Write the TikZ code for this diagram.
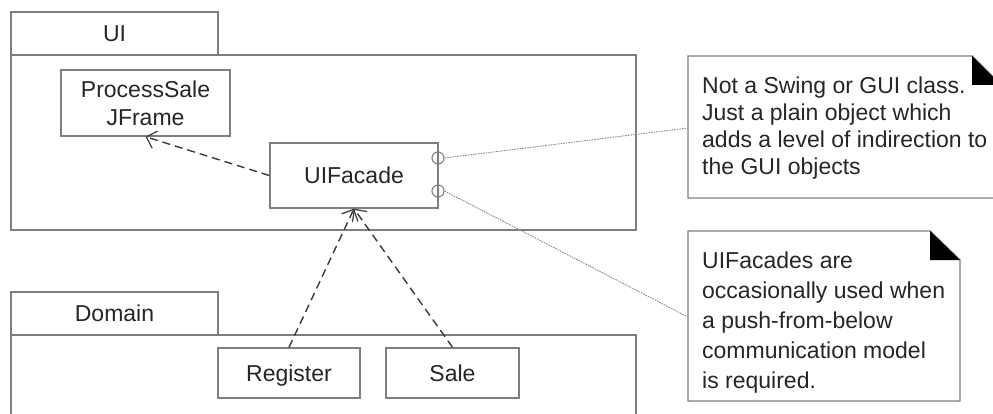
\documentclass[tikz,border=0pt]{standalone}
\usepackage{fontspec}
\setmainfont{Liberation Sans}
\usetikzlibrary{arrows.meta}
\definecolor{boxline}{HTML}{7E7E7E}
\definecolor{txt}{HTML}{262626}
\definecolor{dep}{HTML}{3A3A3A}
\definecolor{dotc}{HTML}{8C8C8C}
\begin{document}
\begin{tikzpicture}[x=1pt,y=-1pt,
  every node/.style={font=\fontsize{23}{28}\selectfont, text=txt},
  pkg/.style={draw=boxline, line width=1.4pt, rectangle, inner sep=0pt},
  cls/.style={draw=boxline, line width=1.4pt, rectangle, inner sep=0pt, align=center},
  lbl/.style={text height=16.5pt, text depth=0pt},
  lolly/.style={draw=boxline, line width=1.1pt, circle, inner sep=0pt, minimum size=12pt},
  depline/.style={draw=dep, line width=1.4pt, dash pattern=on 8pt off 5pt, -{Straight Barb[length=9pt,width=18pt,line width=1.2pt]}},
  anchorline/.style={draw=dotc, line width=0.9pt, dash pattern=on 1.6pt off 1pt},
  notebox/.style={draw=boxline, line width=1.4pt, fill=white},
  notetxt/.style={anchor=north west, inner sep=0pt, align=left}
]
\useasboundingbox (0,0) rectangle (993,414);
\clip (0,0) rectangle (993,414);
\fill[white] (0,0) rectangle (993,414);

% UI package
\node[pkg, lbl, minimum width=207pt, minimum height=43pt] (uitab) at (114.5,33.5) {UI};
\node[pkg, minimum width=625pt, minimum height=175pt] (uibody) at (323.5,142.5) {};

% Domain package
\node[pkg, lbl, minimum width=207pt, minimum height=43pt] (domtab) at (114.5,313.5) {Domain};
\draw[boxline, line width=1.4pt] (11,440) -- (11,335) -- (636,335) -- (636,440);
\coordinate (dombody) at (11,335);

% classes
\node[cls, minimum width=169pt, minimum height=66pt] (psj) at (145.5,103) {ProcessSale\\JFrame};
\node[cls, lbl, minimum width=168pt, minimum height=65pt] (uif) at (354,175.5) {UIFacade};
\node[cls, lbl, minimum width=142pt, minimum height=50pt] (reg) at (289,373) {Register};
\node[cls, lbl, minimum width=133pt, minimum height=50pt] (sale) at (452.5,373) {Sale};

% lollipops
\node[lolly] (lp1) at (438,158) {};
\node[lolly] (lp2) at (438,191) {};

% notes
\draw[notebox] (688,56) -- (972,56) -- (1001,85) -- (1001,198) -- (688,198) -- cycle;
\fill[black] (972,56) -- (972,85) -- (1001,85) -- cycle;
\node[notetxt, font=\fontsize{23}{27}\selectfont] (note1) at (702,76.5) {Not a Swing or GUI class.\\Just a plain object which\\adds a level of indirection to\\the GUI objects};
\coordinate (n1a) at (688,128);

\draw[notebox] (688,231) -- (930,231) -- (960,260) -- (960,401) -- (688,401) -- cycle;
\fill[black] (930,231) -- (930,260) -- (960,260) -- cycle;
\node[notetxt, font=\fontsize{23}{30}\selectfont] (note2) at (702,251.5) {UIFacades are\\occasionally used when\\a push-from-below\\communication model\\is required.};
\coordinate (n2a) at (688,317);

% connectors
\draw[depline] (uif.west) -- (psj.south);
\draw[depline] (reg.north) -- (uif.south);
\draw[depline] (sale.north) -- (uif.south);
\draw[anchorline] (lp1.east) -- (n1a);
\draw[anchorline] (lp2.east) -- (n2a);
\end{tikzpicture}
\end{document}
